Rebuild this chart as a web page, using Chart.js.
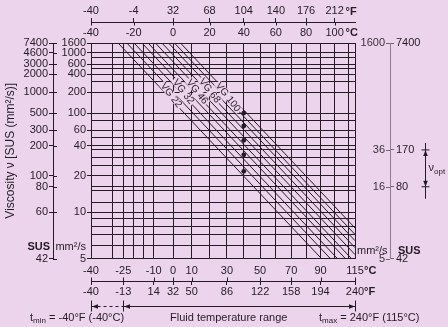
<!DOCTYPE html>
<html>
<head>
<meta charset="utf-8">
<script src="https://cdn.jsdelivr.net/npm/chart.js@4.4.0/dist/chart.umd.min.js"></script>
<style>
  html, body { margin: 0; padding: 0; background: #ecd4ec; }
  #wrap { width: 448px; height: 327px; position: relative; }
</style>
</head>
<body>
<div id="wrap"><canvas id="viscChart"></canvas></div>
<script>
// temperature grid (°C) and the labelled rows
const gridTempsC = [-40, -30, -25, -20, -15, -10, 0, 10, 20, 30, 40, 50, 60, 70, 80, 90, 100, 110, 115];
const topTempsC = [-40, -20, 0, 20, 40, 60, 80, 100];
const topTempsF = [-40, -4, 32, 68, 104, 140, 176, 212];
const bottomTempsC = [-40, -25, -10, 0, 10, 30, 50, 70, 90, 115];
const bottomTempsF = [-40, -13, 14, 32, 50, 86, 122, 158, 194, 240];

// viscosity grid (mm²/s) and SUS equivalents
const gridVisc = [1600, 1000, 800, 600, 500, 400, 300, 200, 100, 80, 60, 50, 40, 36, 30, 25, 20, 16, 15, 12, 10, 9, 8, 7, 6, 5];
const leftVisc = [1600, 1000, 600, 400, 200, 100, 60, 40, 20, 10, 5];
const susVisc = [1600, 1000, 600, 400, 200, 100, 60, 40, 20, 16, 10, 5];
const susLabels = [7400, 4600, 3000, 2000, 1000, 500, 300, 200, 100, 80, 60, 42];
const rightVisc = [1600, 36, 16, 5];
const rightSus = [7400, 170, 80, 42];

// ISO VG classes, each drawn as its ±10 % band
const vgNames = ["VG 22", "VG 32", "VG 46", "VG 68", "VG 100"];
const vgVisc40 = [22, 32, 46, 68, 100];
const vgBandVisc40 = [[19.8, 24.2], [28.8, 35.2], [41.4, 50.6], [61.2, 74.8], [90, 110]];
const vgBandStartTemp = [[-27.5, -23.3], [-19.8, -15.9], [-12.85, -9.15], [-5.8, -2.35], [0.75, 3.95]];
const vgBandEndTemp = [[90.6, 96.9], [102.0, 107.8], [112.3, 115], [115, 115], [115, 115]];
const vgBandEndVisc = [[5, 5], [5, 5], [5, 5.27], [5.8, 6.41], [7.03, 7.76]];
const vgLabelVisc = [182, 206, 206, 214, 170];

// operating range markers
const optVisc = [36, 16];
const fluidRangeC = [-40, -25, 115];

const BG = "#ecd4ec";
const INK = "#241b25";
const FONT = "'Liberation Sans', Arial, sans-serif";

// ASTM D341 style axes: log of absolute temperature, log-log of viscosity
const tx = (c) => Math.log10(c + 273.15);
const vy = (v) => Math.log10(Math.log10(v + 0.7));

function setTicks(values, fn) {
  return (scale) => {
    scale.ticks = values.map((v) => ({ value: fn(v) }));
  };
}

function fixSize(prop, size) {
  return (scale) => {
    scale[prop] = size;
  };
}

const tickFont = { family: FONT, size: 11 };
const xRange = { type: "linear", min: tx(-40), max: tx(115) };
const yRange = { type: "linear", min: vy(5), max: vy(1600) };

function arrowHead(ctx, x, y, dx, dy) {
  // dx/dy: unit direction the arrow points to
  const len = 6, half = 2.3;
  ctx.beginPath();
  ctx.moveTo(x, y);
  ctx.lineTo(x - dx * len - dy * half, y - dy * len + dx * half);
  ctx.lineTo(x - dx * len + dy * half, y - dy * len - dx * half);
  ctx.closePath();
  ctx.fill();
}

function subText(ctx, x, y, main, sub, rest, size) {
  ctx.textAlign = "left";
  ctx.textBaseline = "middle";
  ctx.font = size + "px " + FONT;
  ctx.fillText(main, x, y);
  x += ctx.measureText(main).width;
  ctx.font = (size - 3) + "px " + FONT;
  ctx.fillText(sub, x, y + 3);
  x += ctx.measureText(sub).width;
  if (rest) {
    ctx.font = size + "px " + FONT;
    ctx.fillText(rest, x, y);
  }
}

const decorations = {
  id: "decorations",
  beforeDraw(chart) {
    const ctx = chart.ctx;
    ctx.save();
    ctx.fillStyle = BG;
    ctx.fillRect(0, 0, chart.width, chart.height);
    ctx.restore();
  },
  afterDatasetsDraw(chart) {
    const ctx = chart.ctx;
    const ys = chart.scales.y;
    ctx.save();
    ctx.font = "10px " + FONT;
    vgNames.forEach((name, i) => {
      const py = ys.getPixelForValue(vy(vgLabelVisc[i]));
      // centre of the band between its two lines at the label height
      let px = 0;
      [2 * i, 2 * i + 1].forEach((d) => {
        const pts = chart.getDatasetMeta(d).data;
        const a = pts[0], b = pts[1];
        px += (a.x + (b.x - a.x) * (py - a.y) / (b.y - a.y)) / 2;
      });
      const w = ctx.measureText(name).width;
      ctx.save();
      ctx.translate(px, py);
      ctx.rotate(52 * Math.PI / 180);
      ctx.fillStyle = BG;
      ctx.fillRect(-w / 2 - 1.5, -4, w + 3, 8);
      ctx.fillStyle = INK;
      ctx.textAlign = "center";
      ctx.textBaseline = "middle";
      ctx.fillText(name, 0, 0.5);
      ctx.restore();
    });
    ctx.restore();
  },
  afterDraw(chart) {
    const { ctx, scales } = chart;
    const xs = scales.x, ys = scales.y;
    const area = chart.chartArea;
    ctx.save();
    ctx.strokeStyle = INK;
    ctx.fillStyle = INK;
    ctx.lineWidth = 1;

    // second half of the cross ticks on the °F and SUS axes
    ctx.beginPath();
    topTempsC.forEach((c) => {
      const x = Math.round(xs.getPixelForValue(tx(c))) + 0.5;
      ctx.moveTo(x, scales.xTopF.bottom);
      ctx.lineTo(x, scales.xTopF.bottom + 3.5);
    });
    bottomTempsC.forEach((c) => {
      const x = Math.round(xs.getPixelForValue(tx(c))) + 0.5;
      ctx.moveTo(x, scales.xF.top);
      ctx.lineTo(x, scales.xF.top - 3.5);
    });
    susVisc.forEach((v) => {
      const y = Math.round(ys.getPixelForValue(vy(v))) + 0.5;
      ctx.moveTo(scales.ySUS.right, y);
      ctx.lineTo(scales.ySUS.right + 4, y);
    });
    ctx.stroke();
    ctx.strokeStyle = "#6f6470";
    ctx.beginPath();
    rightVisc.forEach((v) => {
      const y = Math.round(ys.getPixelForValue(vy(v))) + 0.5;
      ctx.moveTo(scales.ySUSR.left - 4, y);
      ctx.lineTo(scales.ySUSR.left, y);
    });
    ctx.stroke();
    ctx.strokeStyle = INK;

    // unit labels
    ctx.font = "bold 11px " + FONT;
    ctx.textAlign = "left";
    ctx.textBaseline = "middle";
    const xTop = xs.getPixelForValue(tx(100)) + 11;
    const xBot = xs.getPixelForValue(tx(115)) + 9;
    ctx.fillText("°F", xTop, 12);
    ctx.fillText("°C", xTop, 33);
    ctx.fillText("°C", xBot, 271);
    ctx.fillText("°F", xBot, 292);

    const yUnits = ys.getPixelForValue(vy(5)) - 12;
    ctx.textAlign = "right";
    ctx.fillText("SUS", scales.ySUS.right - 3, yUnits);
    ctx.font = "11px " + FONT;
    ctx.fillText("mm²/s", scales.y.right - 5, yUnits);
    ctx.textAlign = "left";
    ctx.fillText("mm²/s", area.right + 2, yUnits + 4);
    ctx.font = "bold 11px " + FONT;
    ctx.fillText("SUS", scales.ySUSR.left + 8, yUnits + 4);

    // ν opt range marker
    const ox = scales.ySUSR.left + 35.5;
    const yHi = ys.getPixelForValue(vy(optVisc[0]));
    const yLo = ys.getPixelForValue(vy(optVisc[1]));
    ctx.beginPath();
    ctx.moveTo(ox, yHi - 7);
    ctx.lineTo(ox, yLo + 12);
    ctx.moveTo(ox - 4, yHi);
    ctx.lineTo(ox + 4, yHi);
    ctx.moveTo(ox - 4, yLo);
    ctx.lineTo(ox + 4, yLo);
    ctx.stroke();
    arrowHead(ctx, ox, yHi, 0, -1);
    arrowHead(ctx, ox, yLo, 0, 1);
    ctx.fillStyle = INK;
    subText(ctx, ox + 3, (yHi + yLo) / 2, "ν", "opt", "", 11);

    // fluid temperature range
    const ay = 306.5;
    const xa = Math.round(xs.getPixelForValue(tx(fluidRangeC[0]))) + 0.5;
    const xb = Math.round(xs.getPixelForValue(tx(fluidRangeC[1]))) + 0.5;
    const xc = Math.round(xs.getPixelForValue(tx(fluidRangeC[2]))) + 0.5;
    ctx.beginPath();
    [xa, xb, xc].forEach((x) => {
      ctx.moveTo(x, ay - 6);
      ctx.lineTo(x, ay + 5);
    });
    ctx.moveTo(xb, ay);
    ctx.lineTo(xc, ay);
    ctx.stroke();
    ctx.setLineDash([3, 3]);
    ctx.beginPath();
    ctx.moveTo(xa, ay);
    ctx.lineTo(xb, ay);
    ctx.stroke();
    ctx.setLineDash([]);
    arrowHead(ctx, xa + 0.5, ay, -1, 0);
    arrowHead(ctx, xb + 0.5, ay, -1, 0);
    arrowHead(ctx, xc - 0.5, ay, 1, 0);

    subText(ctx, 30, 318, "t", "min", " = -40°F (-40°C)", 11);
    ctx.font = "11px " + FONT;
    ctx.textAlign = "left";
    ctx.fillText("Fluid temperature range", 170, 318);
    subText(ctx, 319, 318, "t", "max", " = 240°F (115°C)", 11);
    ctx.restore();
  }
};

const datasets = [];
vgNames.forEach((name, i) => {
  [0, 1].forEach((k) => {
    datasets.push({
      label: name + (k ? " max" : " min"),
      data: [
        { x: tx(vgBandStartTemp[i][k]), y: vy(1600) },
        { x: tx(40), y: vy(vgBandVisc40[i][k]) },
        { x: tx(vgBandEndTemp[i][k]), y: vy(vgBandEndVisc[i][k]) }
      ],
      showLine: true,
      borderColor: INK,
      borderWidth: 1,
      pointRadius: 0,
      tension: 0,
      xAxisID: "x",
      yAxisID: "y"
    });
  });
});
datasets.push({
  label: "40 °C nominal",
  data: vgVisc40.map((v) => ({ x: tx(40), y: vy(v) })),
  showLine: false,
  backgroundColor: INK,
  pointRadius: 2.4,
  pointBorderWidth: 0,
  xAxisID: "x",
  yAxisID: "y"
});

Chart.defaults.font.family = FONT;
Chart.defaults.color = INK;

new Chart(document.getElementById("viscChart"), {
  type: "scatter",
  data: { datasets },
  plugins: [decorations],
  options: {
    responsive: true,
    maintainAspectRatio: false,
    devicePixelRatio: 1,
    animation: false,
    events: [],
    layout: { padding: { top: 0, left: 0, right: 0, bottom: 30 } },
    plugins: { legend: { display: false }, tooltip: { enabled: false } },
    scales: {
      x: {
        ...xRange,
        position: "bottom",
        weight: 0,
        afterBuildTicks: setTicks(gridTempsC, tx),
        afterFit: fixSize("height", 22.5),
        grid: { color: INK, drawTicks: false },
        border: { color: INK },
        ticks: {
          autoSkip: false, maxRotation: 0, padding: 6, font: tickFont, color: INK,
          callback: (v, i) => bottomTempsC.includes(gridTempsC[i]) ? String(gridTempsC[i]) : ""
        }
      },
      xF: {
        ...xRange,
        position: "bottom",
        weight: 1,
        afterBuildTicks: setTicks(bottomTempsC, tx),
        afterFit: fixSize("height", 16),
        grid: { drawOnChartArea: false, tickLength: 4, color: INK },
        border: { color: INK },
        ticks: {
          autoSkip: false, maxRotation: 0, padding: 0, font: tickFont, color: INK,
          callback: (v, i) => String(bottomTempsF[i])
        }
      },
      xTopC: {
        ...xRange,
        position: "top",
        weight: 0,
        afterBuildTicks: setTicks(topTempsC, tx),
        afterFit: fixSize("height", 21),
        grid: { display: false, drawTicks: false },
        border: { display: false },
        ticks: {
          autoSkip: false, maxRotation: 0, padding: 3.4, font: tickFont, color: INK,
          callback: (v, i) => String(topTempsC[i])
        }
      },
      xTopF: {
        ...xRange,
        position: "top",
        weight: 1,
        afterBuildTicks: setTicks(topTempsC, tx),
        afterFit: fixSize("height", 22),
        grid: { drawOnChartArea: false, tickLength: 4, color: INK },
        border: { color: INK },
        ticks: {
          autoSkip: false, maxRotation: 0, padding: 0, font: tickFont, color: INK,
          callback: (v, i) => String(topTempsF[i])
        }
      },
      y: {
        ...yRange,
        position: "left",
        weight: 0,
        afterBuildTicks: setTicks(gridVisc, vy),
        afterFit: fixSize("width", 38),
        grid: {
          color: INK,
          tickLength: 4,
          tickColor: (c) => leftVisc.includes(gridVisc[c.index]) ? INK : "rgba(0,0,0,0)"
        },
        border: { color: INK },
        ticks: {
          autoSkip: false, padding: 1, font: tickFont, color: INK,
          callback: (v, i) => leftVisc.includes(gridVisc[i]) ? String(gridVisc[i]) : ""
        }
      },
      ySUS: {
        ...yRange,
        position: "left",
        weight: 1,
        afterBuildTicks: setTicks(susVisc, vy),
        afterFit: fixSize("width", 53),
        grid: { drawOnChartArea: false, tickLength: 4, color: INK },
        border: { color: INK },
        title: {
          display: true,
          text: "Viscosity ν [SUS (mm²/s)]",
          font: { family: FONT, size: 12 },
          color: INK,
          padding: { top: 3, bottom: 0 }
        },
        ticks: {
          autoSkip: false, padding: 1, font: tickFont, color: INK,
          callback: (v, i) => String(susLabels[i])
        }
      },
      yR: {
        ...yRange,
        position: "right",
        weight: 0,
        afterBuildTicks: setTicks(rightVisc, vy),
        afterFit: fixSize("width", 30),
        grid: { display: false, drawTicks: false },
        border: { display: false },
        ticks: {
          autoSkip: false, padding: 1, crossAlign: "far", font: tickFont, color: "#3a303b",
          callback: (v, i) => String(rightVisc[i])
        }
      },
      yGap: {
        ...yRange,
        position: "right",
        weight: 1,
        afterFit: fixSize("width", 5),
        grid: { display: false, drawTicks: false },
        border: { display: false },
        ticks: { display: false }
      },
      ySUSR: {
        ...yRange,
        position: "right",
        weight: 2,
        afterBuildTicks: setTicks(rightVisc, vy),
        afterFit: fixSize("width", 58),
        grid: { drawOnChartArea: false, tickLength: 4, color: "#6f6470" },
        border: { color: "#8a7e8b" },
        ticks: {
          autoSkip: false, padding: 2, font: tickFont, color: INK,
          callback: (v, i) => String(rightSus[i])
        }
      }
    }
  }
});
</script>
</body>
</html>
